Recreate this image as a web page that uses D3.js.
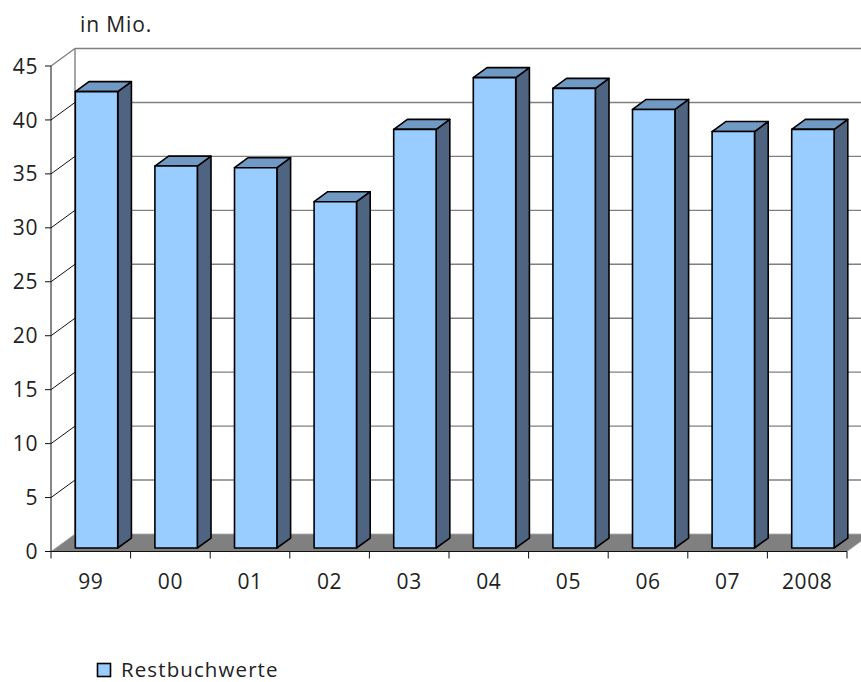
<!DOCTYPE html>
<html>
<head>
<meta charset="utf-8">
<script src="https://cdn.jsdelivr.net/npm/d3@7"></script>
<style>
  html, body { margin: 0; padding: 0; background: #fff; }
  svg { display: block; }
  text { font-family: "Open Sans", "DejaVu Sans", sans-serif; fill: #222; }
</style>
</head>
<body>
<svg id="chart" width="861" height="682"></svg>
<script>
// ---- data ----
const categories = ["99", "00", "01", "02", "03", "04", "05", "06", "07", "2008"];
const values = [42.3, 35.4, 35.25, 32.1, 38.8, 43.6, 42.6, 40.65, 38.6, 38.8];
const yTicks = [0, 5, 10, 15, 20, 25, 30, 35, 40, 45];
const seriesName = "Restbuchwerte";
const unitLabel = "in Mio.";

// ---- layout ----
const svg = d3.select("#chart");
const W = 861, H = 682;
const DX = 24, DY = 17.5;          // depth offset of back wall
const bFront = 0.2, bBack = 0.77;  // bar depth fraction

const x = d3.scaleBand().domain(categories).range([51, 847]);
const y = d3.scaleLinear().domain([0, 45]).range([551.5, 66]);
const bw = x.bandwidth();
const barW = bw * 0.533;
const barOff = bw * 0.245;

const P = (px, py, d) => [px + DX * d, py - DY * d];

// back wall gridlines
const g = svg.append("g");
g.selectAll("line.grid").data(yTicks.filter(t => t > 0)).enter().append("line")
  .attr("x1", 51 + DX).attr("x2", W + 30)
  .attr("y1", d => y(d) - DY).attr("y2", d => y(d) - DY)
  .attr("stroke", "#808080").attr("stroke-width", 1.4);
// back wall left edge
g.append("line").attr("x1", 51 + DX).attr("x2", 51 + DX)
  .attr("y1", y(45) - DY).attr("y2", y(0) - DY)
  .attr("stroke", "#808080").attr("stroke-width", 1.4);
// left wall diagonals
g.selectAll("line.diag").data(yTicks.filter(t => t > 0)).enter().append("line")
  .attr("x1", 51).attr("y1", d => y(d))
  .attr("x2", 51 + DX).attr("y2", d => y(d) - DY)
  .attr("stroke", d => d === 45 ? "#808080" : "#111")
  .attr("stroke-width", d => d === 45 ? 1.4 : 1);

// floor
const x0 = x.range()[0], x1 = x.range()[1];
g.append("path")
  .attr("d", d3.line()([[x0, y(0)], [x1, y(0)], P(x1, y(0), 1), P(x0, y(0), 1)]) + "Z")
  .attr("fill", "#808080").attr("stroke", "#aaa").attr("stroke-width", 0.8);

// bars
const bars = svg.append("g");
categories.forEach((c, i) => {
  const v = values[i];
  const lx = x(c) + barOff, rx = lx + barW;
  const top = y(v), base = y(0);
  const fl = P(lx, top, bFront), fr = P(rx, top, bFront);
  const flb = P(lx, base, bFront), frb = P(rx, base, bFront);
  const bl = P(lx, top, bBack), br = P(rx, top, bBack), brb = P(rx, base, bBack);
  const grp = bars.append("g").attr("stroke", "#000").attr("stroke-width", 1.6)
    .attr("stroke-linejoin", "round");
  grp.append("path").attr("d", d3.line()([fr, br, brb, frb]) + "Z").attr("fill", "#4F6480");
  grp.append("path").attr("d", d3.line()([fl, fr, br, bl]) + "Z").attr("fill", "#7099C4");
  grp.append("path").attr("d", d3.line()([fl, fr, frb, flb]) + "Z").attr("fill", "#99CCFF");
});

// y axis
const ya = svg.append("g");
ya.append("line").attr("x1", 51).attr("x2", 51).attr("y1", y(45)).attr("y2", y(0))
  .attr("stroke", "#111").attr("stroke-width", 1);
ya.selectAll("line.tk").data(yTicks).enter().append("line")
  .attr("x1", 45).attr("x2", 51).attr("y1", d => y(d)).attr("y2", d => y(d))
  .attr("stroke", "#111").attr("stroke-width", 1);
ya.selectAll("text").data(yTicks).enter().append("text")
  .attr("x", 38).attr("y", d => y(d)).attr("dy", "0.36em")
  .attr("text-anchor", "end").attr("font-size", 21).attr("letter-spacing", 0.6)
  .text(d => d);

// x axis
const xa = svg.append("g");
xa.append("line").attr("x1", x0).attr("x2", x1).attr("y1", y(0)).attr("y2", y(0))
  .attr("stroke", "#111").attr("stroke-width", 1.2);
const bounds = categories.map(c => x(c)).concat([x1]);
xa.selectAll("line.tk").data(bounds).enter().append("line")
  .attr("x1", d => d).attr("x2", d => d).attr("y1", y(0)).attr("y2", y(0) + 7)
  .attr("stroke", "#111").attr("stroke-width", 1);
xa.selectAll("text").data(categories).enter().append("text")
  .attr("x", d => x(d) + bw / 2).attr("y", 589)
  .attr("text-anchor", "middle").attr("font-size", 21).attr("letter-spacing", 0.6)
  .text(d => d);

// unit label
svg.append("text").attr("x", 80).attr("y", 32).attr("font-size", 21)
  .attr("letter-spacing", 0.9).text(unitLabel);

// legend
svg.append("rect").attr("x", 97.5).attr("y", 663.5).attr("width", 13).attr("height", 13)
  .attr("fill", "#99CCFF").attr("stroke", "#000").attr("stroke-width", 1.6);
svg.append("text").attr("x", 121).attr("y", 676.5).attr("font-size", 20.5)
  .attr("letter-spacing", 1.1).text(seriesName);
</script>
</body>
</html>
